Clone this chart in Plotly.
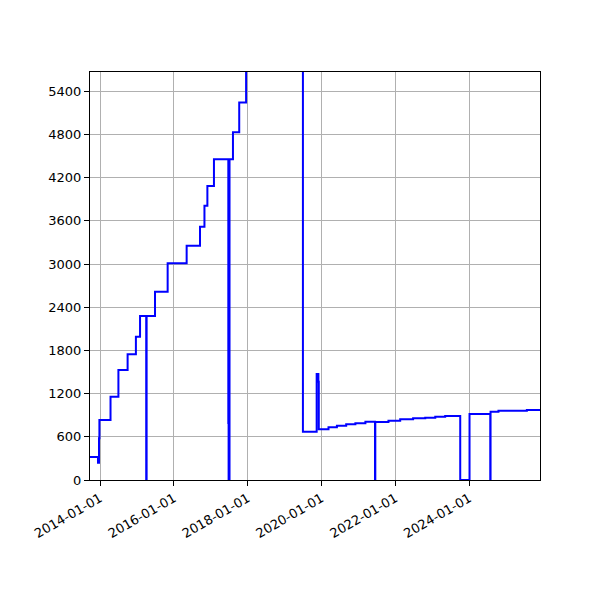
import plotly.graph_objects as go

# step points: the value holds until the next date
dates = [
    '2013-09-24', '2013-12-12', '2013-12-22', '2013-12-26',
    '2014-04-15', '2014-07-02', '2014-10-01', '2014-12-22',
    '2015-02-01', '2015-04-03', '2015-04-07', '2015-06-29',
    '2015-11-01', '2016-05-07', '2016-09-16', '2016-10-30',
    '2016-11-28', '2017-02-01', '2017-06-23', '2017-06-26',
    '2017-07-05', '2017-08-08', '2017-10-09', '2017-12-16',
    '2018-04-01', '2018-09-01', '2019-02-01', '2019-07-01',
    '2019-11-14', '2019-12-01', '2019-12-05', '2020-03-10',
    '2020-06-01', '2020-09-01', '2020-12-01', '2021-03-10',
    '2021-06-13', '2021-06-16', '2021-10-24', '2022-02-17',
    '2022-06-25', '2022-10-23', '2023-01-30', '2023-05-08',
    '2023-10-04', '2024-01-04', '2024-07-27', '2024-07-30',
    '2024-10-16', '2025-07-24', '2025-12-01',
]
values = [
    320, 240, 580, 833,
    1157, 1528, 1745, 1991,
    2278, 0, 2278, 2616,
    3009, 3255, 3519, 3810,
    4083, 4454, 790, 0,
    4454, 4829, 5245, 5800,
    6200, 6600, 7000, 671,
    1472, 1366, 704, 731,
    755, 773, 787, 810,
    0, 805, 824, 843,
    857, 865, 879, 889,
    0, 917, 0, 949,
    963, 972, 972,
]

y_ticks = [0, 600, 1200, 1800, 2400, 3000, 3600, 4200, 4800, 5400]
x_ticks = ['2014-01-01', '2016-01-01', '2018-01-01', '2020-01-01', '2022-01-01', '2024-01-01']

fig = go.Figure()
fig.add_trace(go.Scatter(
    x=dates, y=values, mode='lines',
    line=dict(color='#0000ff', width=2, shape='hv'),
    showlegend=False,
))

axis_style = dict(
    showline=True, linecolor='black', linewidth=1, mirror=True,
    showgrid=True, gridcolor='#b0b0b0', gridwidth=1,
    ticks='outside', ticklen=5, tickcolor='black', tickwidth=1,
    zeroline=False,
    tickfont=dict(family='DejaVu Sans', size=13, color='black'),
)

fig.update_xaxes(
    range=['2013-09-24', '2025-12-01'],
    tickvals=x_ticks, ticktext=x_ticks, tickangle=-30,
    **axis_style,
)
fig.update_yaxes(range=[0, 5667], tickvals=y_ticks, **axis_style)

# the page body adds 8px, so margins are shifted by that
fig.update_layout(
    width=600, height=600,
    margin=dict(l=82, r=68, t=64, b=128),
    plot_bgcolor='white', paper_bgcolor='white',
)

fig.write_html("out.html")
